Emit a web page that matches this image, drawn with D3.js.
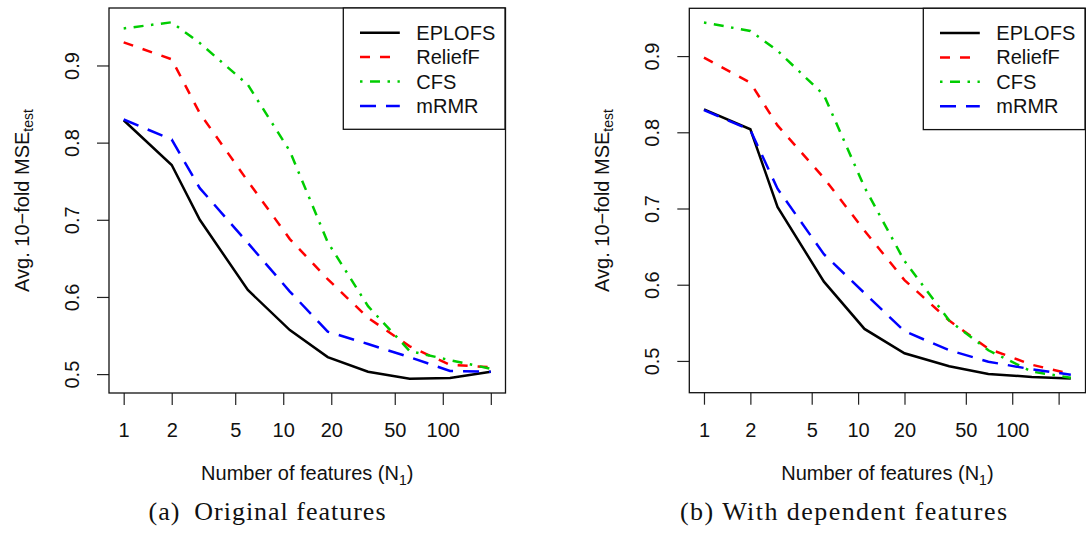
<!DOCTYPE html>
<html>
<head>
<meta charset="utf-8">
<script src="https://cdn.jsdelivr.net/npm/d3@7"></script>
<style>
  body { margin: 0; background: #fff; }
  text { font-family: "Liberation Sans", Arial, sans-serif; fill: #111; }
  .caption { font-family: "Liberation Serif", "Times New Roman", serif; }
</style>
</head>
<body>
<div id="chart"></div>
<script>
// number of selected features at each point
var featuresOrig = [1, 2, 3, 6, 11, 19, 34, 62, 111, 200];
var featuresDep = [1, 2, 3, 6, 11, 20, 39, 70, 134, 240];

// (a) original features
var eplofsOrig  = [0.829, 0.771, 0.700, 0.609, 0.557, 0.522, 0.503, 0.494, 0.495, 0.503];
var relieffOrig = [0.930, 0.908, 0.838, 0.750, 0.675, 0.623, 0.573, 0.536, 0.512, 0.509];
var cfsOrig     = [0.948, 0.956, 0.929, 0.875, 0.789, 0.671, 0.588, 0.530, 0.518, 0.507];
var mrmrOrig    = [0.830, 0.804, 0.741, 0.670, 0.607, 0.555, 0.539, 0.522, 0.504, 0.503];

// (b) with dependent features
var eplofsDep  = [0.830, 0.804, 0.702, 0.604, 0.542, 0.510, 0.493, 0.483, 0.479, 0.477];
var relieffDep = [0.898, 0.865, 0.809, 0.740, 0.671, 0.606, 0.553, 0.516, 0.495, 0.483];
var cfsDep     = [0.944, 0.933, 0.907, 0.849, 0.728, 0.631, 0.553, 0.514, 0.486, 0.478];
var mrmrDep    = [0.829, 0.803, 0.726, 0.640, 0.589, 0.539, 0.514, 0.499, 0.489, 0.482];

var methods = ["EPLOFS", "ReliefF", "CFS", "mRMR"];
var xTicks = [1, 2, 5, 10, 20, 50, 100, 200];
var xTickLabels = ["1", "2", "5", "10", "20", "50", "100", ""];
var yTicks = [0.5, 0.6, 0.7, 0.8, 0.9];
var captions = ["(a)\u2002Original features", "(b) With dependent features"];

var styles = [
  {color: "#000000", dash: null},
  {color: "#ff0000", dash: "10,10"},
  {color: "#00cd00", dash: "2.5,7.5,10,7.5"},
  {color: "#0000ff", dash: "16,10"}
];

var panels = [
  {left: 109, right: 505.5, top: 8, bottom: 393, xs: featuresOrig,
   series: [eplofsOrig, relieffOrig, cfsOrig, mrmrOrig], capX: 267, capLen: 237},
  {left: 689.3, right: 1085.5, top: 8.3, bottom: 392.7, xs: featuresDep,
   series: [eplofsDep, relieffDep, cfsDep, mrmrDep], capX: 843.5, capLen: 327}
];

var svg = d3.select("#chart").append("svg")
    .attr("width", 1086)
    .attr("height", 535);

panels.forEach(function(p, pi) {
  var g = svg.append("g");

  // R style ranges: data range plus 4% on each side
  var lx = d3.extent(p.xs).map(Math.log10);
  var padX = (lx[1] - lx[0]) * 0.04;
  var x = d3.scaleLog()
      .domain([Math.pow(10, lx[0] - padX), Math.pow(10, lx[1] + padX)])
      .range([p.left, p.right]);

  var ext = d3.extent(d3.merge(p.series));
  var padY = (ext[1] - ext[0]) * 0.04;
  var y = d3.scaleLinear()
      .domain([ext[0] - padY, ext[1] + padY])
      .range([p.bottom, p.top]);

  var xAxis = g.append("g")
      .attr("transform", "translate(0," + p.bottom + ")")
      .call(d3.axisBottom(x).tickValues(xTicks).tickSize(12).tickSizeOuter(0)
        .tickFormat(function(d, i){ return xTickLabels[i]; }));
  xAxis.select(".domain").remove();
  xAxis.selectAll("line").attr("stroke", "#222").attr("stroke-width", 1.2);
  xAxis.selectAll("text")
      .attr("y", 44).attr("dy", null)
      .style("font-size", "20px").attr("fill", "#111");

  var yAxis = g.append("g")
      .attr("transform", "translate(" + p.left + ",0)")
      .call(d3.axisLeft(y).tickValues(yTicks).tickSize(12).tickSizeOuter(0)
        .tickFormat(d3.format(".1f")));
  yAxis.select(".domain").remove();
  yAxis.selectAll("line").attr("stroke", "#222").attr("stroke-width", 1.2);
  yAxis.selectAll("text")
      .attr("x", 0).attr("y", -30).attr("dy", null)
      .attr("transform", "rotate(-90)")
      .style("text-anchor", "middle")
      .style("font-size", "20px").attr("fill", "#111");

  var line = d3.line()
      .x(function(d){ return x(d[0]); })
      .y(function(d){ return y(d[1]); });

  p.series.forEach(function(vals, si) {
    g.append("path")
        .datum(vals.map(function(v, i){ return [p.xs[i], v]; }))
        .attr("d", line)
        .attr("fill", "none")
        .attr("stroke", styles[si].color)
        .attr("stroke-width", 2.5)
        .attr("stroke-dasharray", styles[si].dash);
  });

  // frame
  g.append("rect")
      .attr("x", p.left).attr("y", p.top)
      .attr("width", p.right - p.left).attr("height", p.bottom - p.top)
      .attr("fill", "none").attr("stroke", "#111").attr("stroke-width", 1.3);

  // legend
  var lw = 161.7, lh = 121.3;
  var leg = g.append("g")
      .attr("transform", "translate(" + (p.right - lw - 0.5) + "," + p.top + ")");
  leg.append("rect")
      .attr("width", lw).attr("height", lh)
      .attr("fill", "#fff").attr("stroke", "#111").attr("stroke-width", 1.3);
  methods.forEach(function(m, i) {
    var ly = 24.7 + i * 24.4;
    leg.append("line")
        .attr("x1", 16.7).attr("x2", 56.5).attr("y1", ly).attr("y2", ly)
        .attr("stroke", styles[i].color).attr("stroke-width", 2.5)
        .attr("stroke-dasharray", styles[i].dash);
    leg.append("text")
        .attr("x", 73).attr("y", ly + 7)
        .style("font-size", "20px")
        .text(m);
  });

  // axis titles
  var xt = g.append("text")
      .attr("x", (p.left + p.right) / 2).attr("y", p.bottom + 87)
      .style("text-anchor", "middle").style("font-size", "20px");
  xt.append("tspan").text("Number of features (N");
  xt.append("tspan").attr("dy", 5).style("font-size", "14px").text("1");
  xt.append("tspan").attr("dy", -5).text(")");

  var yt = g.append("text")
      .attr("transform", "translate(" + (p.left - 80) + "," + ((p.top + p.bottom) / 2) + ") rotate(-90)")
      .style("text-anchor", "middle").style("font-size", "20px");
  yt.append("tspan").text("Avg. 10\u2212fold MSE");
  yt.append("tspan").attr("dy", 4).style("font-size", "14px").text("test");

  // sub-figure caption
  svg.append("text")
      .attr("class", "caption")
      .attr("x", p.capX).attr("y", 520)
      .style("text-anchor", "middle").style("font-size", "26px")
      .attr("textLength", p.capLen).attr("lengthAdjust", "spacing")
      .text(captions[pi]);
});
</script>
</body>
</html>
